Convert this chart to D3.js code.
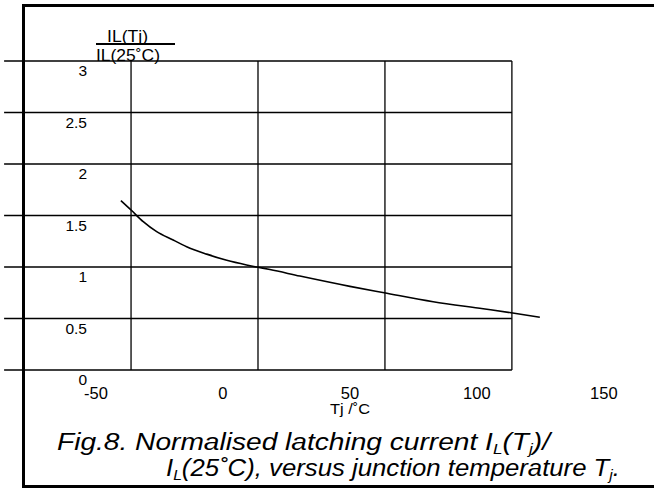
<!DOCTYPE html>
<html>
<head>
<meta charset="utf-8">
<script src="https://cdn.jsdelivr.net/npm/d3@7"></script>
<style>
  body { margin: 0; background: #fff; }
  text { font-family: "Liberation Sans", Arial, sans-serif; fill: #000; }
</style>
</head>
<body>
<script>
// dimensions
const width = 654;
const height = 488;

// data
const tempC = [-40, -36, -31.2, -25.9, -19.4, -14.1, -6.2, 1.7, 9.5, 13.5, 18.7, 30.5, 50.2, 63.7, 83, 102.7, 113.7, 125];
const ratio = [1.644, 1.553, 1.44, 1.343, 1.262, 1.197, 1.125, 1.065, 1.02, 1.0, 0.975, 0.912, 0.812, 0.75, 0.663, 0.595, 0.556, 0.512];

const xTicks = [-50, 0, 50, 100, 150];
const yTicks = [0, 0.5, 1, 1.5, 2, 2.5, 3];
// vertical grid lines sit off the tick labels in the original
const gridCols = [-36, 14, 64, 114];
const gridLeft = -86;

let svg = d3.select("body")
    .append("svg")
    .attr("width", width)
    .attr("height", height);

// scales
let x = d3.scaleLinear()
    .domain([-50, 150])
    .range([95.5, 603.3]);
let y = d3.scaleLinear()
    .domain([0, 3])
    .range([370, 61]);

// outer frame (left, top, bottom)
let frame = svg.append("g")
    .attr("stroke", "#000")
    .attr("stroke-width", 3);
frame.append("line").attr("x1", 23.5).attr("x2", 23.5).attr("y1", 4).attr("y2", 488);
frame.append("line").attr("x1", 22).attr("x2", width).attr("y1", 5.5).attr("y2", 5.5);
frame.append("line").attr("x1", 22).attr("x2", width).attr("y1", 486.5).attr("y2", 486.5);

// grid
let grid = svg.append("g")
    .attr("stroke", "#000")
    .attr("stroke-width", 1.3);
grid.selectAll(".hgrid")
    .data(yTicks)
    .enter()
    .append("line")
    .attr("class", "hgrid")
    .attr("x1", x(gridLeft))
    .attr("x2", x(gridCols[gridCols.length - 1]))
    .attr("y1", d => y(d))
    .attr("y2", d => y(d));
grid.selectAll(".vgrid")
    .data(gridCols)
    .enter()
    .append("line")
    .attr("class", "vgrid")
    .attr("x1", d => x(d))
    .attr("x2", d => x(d))
    .attr("y1", y(0))
    .attr("y2", y(3));

// y tick labels, placed just under each grid line
svg.append("g")
    .attr("transform", "translate(87,0)")
    .call(d3.axisLeft(y).tickValues(yTicks).tickSize(0).tickPadding(0).tickFormat(d => String(d)))
    .call(g => g.select(".domain").remove())
    .attr("font-size", 15.5)
    .attr("font-family", null)
    .selectAll("text")
    .attr("dy", null)
    .attr("y", 14.5);

// x tick labels
svg.append("g")
    .call(d3.axisBottom(x).tickValues(xTicks).tickSize(0).tickPadding(0).tickFormat(d => String(d)))
    .call(g => g.select(".domain").remove())
    .attr("font-size", 16.5)
    .attr("font-family", null)
    .selectAll("text")
    .attr("dy", null)
    .attr("y", 398.5);

// x axis title
svg.append("text")
    .attr("x", 350)
    .attr("y", 413.5)
    .attr("text-anchor", "middle")
    .attr("font-size", 15.5)
    .attr("textLength", 40)
    .attr("lengthAdjust", "spacingAndGlyphs")
    .text("Tj /˚C");

// y axis title as a fraction
svg.append("text")
    .attr("x", 127.5)
    .attr("y", 41.5)
    .attr("text-anchor", "middle")
    .attr("font-size", 16)
    .attr("textLength", 41)
    .attr("lengthAdjust", "spacingAndGlyphs")
    .text("IL(Tj)");
svg.append("line")
    .attr("x1", 96).attr("x2", 175)
    .attr("y1", 44).attr("y2", 44)
    .attr("stroke", "#000")
    .attr("stroke-width", 2);
svg.append("text")
    .attr("x", 96)
    .attr("y", 60.5)
    .attr("font-size", 16)
    .attr("textLength", 64)
    .attr("lengthAdjust", "spacingAndGlyphs")
    .text("IL(25˚C)");

// the curve
let line = d3.line()
    .x((d, i) => x(tempC[i]))
    .y(d => y(d))
    .curve(d3.curveMonotoneX);
svg.append("path")
    .attr("d", line(ratio))
    .attr("fill", "none")
    .attr("stroke", "#000")
    .attr("stroke-width", 1.6);

// caption, two italic lines with subscripts
function captionLine(xPos, yPos, len, parts) {
    let t = svg.append("text")
        .attr("x", xPos)
        .attr("y", yPos)
        .attr("font-size", 23)
        .attr("font-style", "italic")
        .attr("textLength", len)
        .attr("lengthAdjust", "spacingAndGlyphs");
    parts.forEach(p => {
        let s = t.append("tspan").text(p[0]);
        if (p[1]) {
            s.attr("font-size", 14).attr("dy", 4);
        } else if (p[2]) {
            s.attr("dy", -4);
        }
    });
}
captionLine(57, 450, 493, [
    ["Fig.8. Normalised latching current I"], ["L", true], ["(T", false, true], ["j", true], [")/", false, true]
]);
captionLine(166, 476, 454, [
    ["I"], ["L", true], ["(25˚C), versus junction temperature T", false, true], ["j", true], [".", false, true]
]);
</script>
</body>
</html>
